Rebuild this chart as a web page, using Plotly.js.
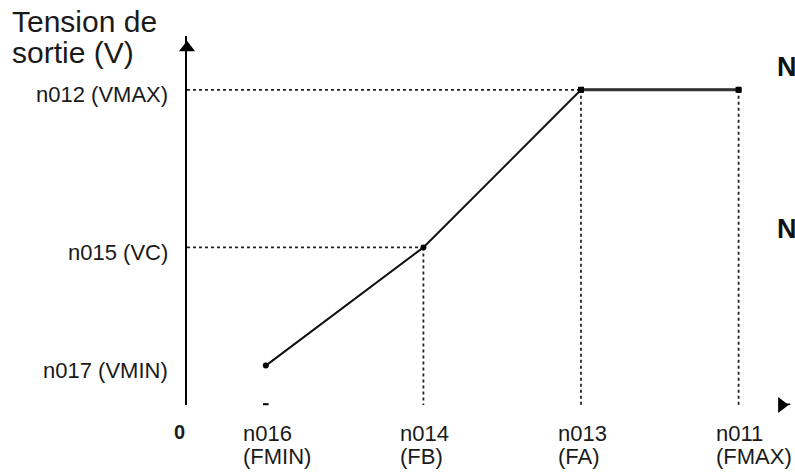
<!DOCTYPE html>
<html>
<head>
<meta charset="utf-8">
<script src="https://cdn.plot.ly/plotly-3.0.1.min.js"></script>
<style>html,body{margin:0;padding:0;background:#fff;}#chart{width:795px;height:473px;}</style>
</head>
<body>
<div id="chart"></div>
<script>
// Data (positions on the frequency / voltage axes, in arbitrary units)
const freqValues = [0.5, 1.5, 2.5, 3.5];
const voltValues = [1, 4, 8, 8];
const freqLabelsTop = ["n016", "n014", "n013", "n011"];
const freqLabelsBottom = ["(FMIN)", "(FB)", "(FA)", "(FMAX)"];
const voltTickValues = [8, 4, 1];
const voltTickLabels = ["n012 (VMAX)", "n015 (VC)", "n017 (VMIN)"];
const titleLines = ["Tension de", "sortie (V)"];
const sideLetters = ["N", "N"];

const FONT = "Liberation Sans, Arial, sans-serif";
const TXT = "#1a1a1a";
const xMax = 608 / 157.6;
const yMax = 369 / 39.4;

const traces = [];
const guide = {color: "#222", width: 1.8, dash: "dot"};
// horizontal guides for VMAX and VC
traces.push({x: [0, freqValues[2]], y: [voltValues[2], voltValues[2]], mode: "lines", line: guide, hoverinfo: "skip", cliponaxis: false});
traces.push({x: [0, freqValues[1]], y: [voltValues[1], voltValues[1]], mode: "lines", line: guide, hoverinfo: "skip", cliponaxis: false});
// vertical guides
[1, 2, 3].forEach(i => {
  traces.push({x: [freqValues[i], freqValues[i]], y: [voltValues[i], 0], mode: "lines", line: guide, hoverinfo: "skip", cliponaxis: false});
});
// V/f curve
traces.push({x: freqValues, y: voltValues, mode: "lines+markers",
  line: {color: "#111", width: 2}, marker: {color: "#000", size: 6, symbol: "circle"}, cliponaxis: false});
// flat part drawn thicker
traces.push({x: freqValues.slice(2), y: voltValues.slice(2), mode: "lines+markers",
  line: {color: "#333", width: 3}, marker: {color: "#000", size: 6, symbol: "square"}, cliponaxis: false});
// axis arrow heads & small tick
traces.push({x: [0], y: [yMax - 0.3], mode: "markers", marker: {symbol: "triangle-up", size: 14, color: "#000"}, cliponaxis: false});
traces.push({x: [xMax - 0.1, xMax - 0.03], y: [0, 0], mode: "lines", line: {color: "#000", width: 3}, cliponaxis: false});
traces.push({x: [xMax - 0.085], y: [0], mode: "markers", marker: {symbol: "triangle-right", size: 14, color: "#000"}, cliponaxis: false});
traces.push({x: [freqValues[0]], y: [0.02], mode: "markers", marker: {symbol: "line-ew", size: 4, line: {color: "#000", width: 2}}, cliponaxis: false});

const annotations = [];
freqValues.forEach((f, i) => {
  annotations.push({x: f, xref: "x", y: 0, yref: "y", text: freqLabelsTop[i], showarrow: false,
    xanchor: "left", xshift: -25, yanchor: "middle", yshift: -28, font: {family: FONT, size: 22, color: TXT}});
  annotations.push({x: f, xref: "x", y: 0, yref: "y", text: freqLabelsBottom[i], showarrow: false,
    xanchor: "left", xshift: -25, yanchor: "middle", yshift: -51, font: {family: FONT, size: 22, color: TXT}});
});
voltTickValues.forEach((v, i) => {
  annotations.push({x: 0, xref: "paper", y: v, yref: "y", text: voltTickLabels[i], showarrow: false,
    xanchor: "right", xshift: -17, yanchor: "middle", yshift: -5, font: {family: FONT, size: 22, color: TXT}});
});
annotations.push({x: 0, xref: "paper", y: 0, yref: "y", text: "<b>0</b>", showarrow: false,
  xanchor: "center", xshift: -8, yanchor: "middle", yshift: -27, font: {family: FONT, size: 20, color: TXT}});
annotations.push({x: 0, xref: "paper", y: 1, yref: "paper", text: titleLines[0], showarrow: false,
  xanchor: "left", xshift: -177, yanchor: "middle", yshift: 15, font: {family: FONT, size: 30, color: TXT}});
annotations.push({x: 0, xref: "paper", y: 1, yref: "paper", text: titleLines[1], showarrow: false,
  xanchor: "left", xshift: -177, yanchor: "middle", yshift: -16, font: {family: FONT, size: 30, color: TXT}});
annotations.push({x: 1, xref: "paper", y: 1, yref: "paper", text: "<b>" + sideLetters[0] + "</b>", showarrow: false,
  xanchor: "left", xshift: -20, yanchor: "middle", yshift: -31, font: {family: FONT, size: 27, color: "#111"}});
annotations.push({x: 1, xref: "paper", y: 1, yref: "paper", text: "<b>" + sideLetters[1] + "</b>", showarrow: false,
  xanchor: "left", xshift: -20, yanchor: "middle", yshift: -193, font: {family: FONT, size: 27, color: "#111"}});

const layout = {
  width: 795, height: 473,
  margin: {l: 187, r: 0, t: 36, b: 68, pad: 0},
  paper_bgcolor: "#fff", plot_bgcolor: "#fff",
  showlegend: false,
  xaxis: {range: [0, xMax], showgrid: false, zeroline: false, showline: false, showticklabels: false, ticks: "", fixedrange: true},
  yaxis: {range: [0, yMax], showgrid: false, zeroline: false, showline: true, linecolor: "#000", linewidth: 2,
    showticklabels: false, ticks: "", fixedrange: true},
  annotations: annotations
};

Plotly.newPlot("chart", traces, layout, {staticPlot: true, displayModeBar: false});
</script>
</body>
</html>
